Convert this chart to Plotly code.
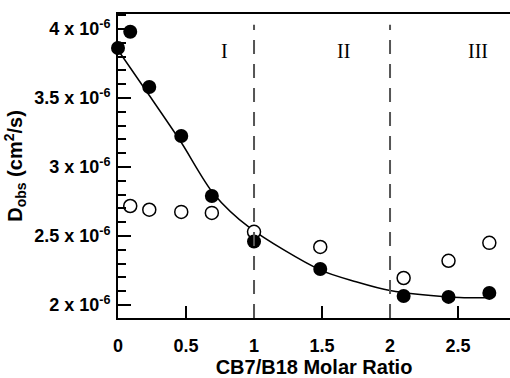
import plotly.graph_objects as go

# Filled circles (measured D_obs, first set)
x_filled = [0.0, 0.09, 0.23, 0.465, 0.69, 1.0, 1.487, 2.1, 2.43, 2.73]
y_filled = [3.862e-6, 3.98e-6, 3.58e-6, 3.225e-6, 2.79e-6, 2.46e-6, 2.26e-6, 2.065e-6, 2.058e-6, 2.087e-6]

# Open circles (second set)
x_open = [0.09, 0.23, 0.465, 0.69, 1.0, 1.487, 2.1, 2.43, 2.73]
y_open = [2.717e-6, 2.69e-6, 2.674e-6, 2.667e-6, 2.53e-6, 2.42e-6, 2.195e-6, 2.32e-6, 2.45e-6]

# Fitted curve
x_fit = [0.015, 0.228, 0.463, 0.70, 0.97, 1.485, 1.75, 2.0, 2.43, 2.72]
y_fit = [3.826e-6, 3.522e-6, 3.181e-6, 2.81e-6, 2.558e-6, 2.254e-6, 2.168e-6, 2.104e-6, 2.058e-6, 2.051e-6]

# Region boundaries and labels
x_bounds = [1.0, 2.0]
region_labels = ["I", "II", "III"]
region_x = [0.78, 1.66, 2.65]
region_y = 3.84e-6

y_tickvals = [2e-6, 2.5e-6, 3e-6, 3.5e-6, 4e-6]
y_ticktext = ["2 x 10<sup>-6</sup>", "2.5 x 10<sup>-6</sup>", "3 x 10<sup>-6</sup>",
              "3.5 x 10<sup>-6</sup>", "4 x 10<sup>-6</sup>"]
x_tickvals = [0, 0.5, 1, 1.5, 2, 2.5]
x_ticktext = ["0", "0.5", "1", "1.5", "2", "2.5"]

fig = go.Figure()
fig.add_trace(go.Scatter(x=x_fit, y=y_fit, mode="lines",
                         line=dict(color="black", width=1.5, shape="spline", smoothing=0.8),
                         hoverinfo="skip", showlegend=False))
fig.add_trace(go.Scatter(x=x_open, y=y_open, mode="markers", cliponaxis=False,
                         marker=dict(size=13, color="white", line=dict(color="black", width=1.5)),
                         showlegend=False))
fig.add_trace(go.Scatter(x=x_filled, y=y_filled, mode="markers", cliponaxis=False,
                         marker=dict(size=14, color="black", line=dict(color="black", width=0)),
                         showlegend=False))

for xb in x_bounds:
    fig.add_shape(type="line", xref="x", yref="paper", x0=xb, x1=xb, y0=0, y1=0.965,
                  line=dict(color="#555555", width=2, dash="14px,10px"))

for lab, xr in zip(region_labels, region_x):
    fig.add_annotation(x=xr, y=region_y, text=lab, showarrow=False,
                       font=dict(family="Liberation Serif", size=20, color="black"))

fig.update_layout(
    width=510, height=378,
    margin=dict(l=118, r=0, t=14, b=60),
    plot_bgcolor="white", paper_bgcolor="white",
    font=dict(family="Liberation Sans", color="black"),
)
fig.update_xaxes(range=[0, 2.882], tickvals=x_tickvals, ticktext=x_ticktext,
                 ticks="inside", ticklen=12, tickwidth=1.5, tickcolor="black",
                 showline=True, linecolor="black", linewidth=2, mirror=True,
                 showgrid=False, zeroline=False, ticklabelstandoff=10,
                 tickfont=dict(size=18, weight="bold"),
                 title=dict(text="CB7/B18 Molar Ratio", font=dict(size=20, weight="bold"), standoff=4))
fig.update_yaxes(range=[1.905e-6, 4.109e-6], tickvals=y_tickvals, ticktext=y_ticktext,
                 ticks="inside", ticklen=13, tickwidth=1.5, tickcolor="black",
                 minor=dict(dtick=1e-7, ticks="inside", ticklen=8, tickwidth=1.5, tickcolor="black", showgrid=False),
                 showline=True, linecolor="black", linewidth=2,
                 showgrid=False, zeroline=False, ticklabelstandoff=2,
                 tickfont=dict(size=18, weight="bold"),
                 title=dict(text="D<sub>obs</sub> (cm<sup>2</sup>/s)", font=dict(size=20, weight="bold"), standoff=6))

fig.write_html("out.html")
